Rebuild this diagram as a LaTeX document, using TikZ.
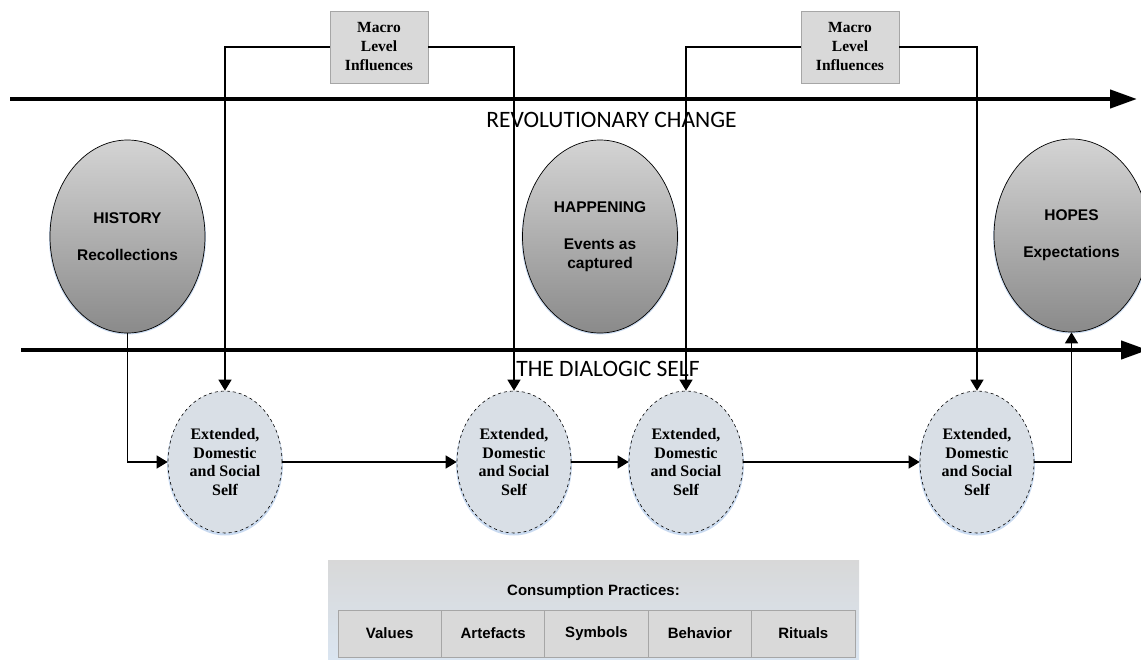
\documentclass[tikz,border=0pt]{standalone}
\usepackage{fontspec}
\setmainfont{Liberation Serif}
\newfontfamily\arialf{Liberation Sans}
\newfontfamily\calibf{Carlito}
\usetikzlibrary{shapes.geometric,arrows.meta}
\definecolor{macrofill}{HTML}{D9D9D9}
\definecolor{macroline}{HTML}{A6A6A6}
\definecolor{selffill}{HTML}{D9DFE6}
\definecolor{glow}{HTML}{C9DAF0}
\definecolor{bigtop}{HTML}{D4D4D4}
\definecolor{bigbot}{HTML}{8A8A8A}
\definecolor{cptop}{HTML}{D8D8D8}
\definecolor{cpbot}{HTML}{DAE5F1}
\tikzset{
  x=1pt,y=-1pt,
  bigarrow/.style={line width=4.3pt,-{Triangle[length=27pt,width=18pt]}},
  conn/.style={line width=1.3pt,-{Triangle[length=11pt,width=13pt]}},
  macrobox/.style={draw=macroline,fill=macrofill,line width=0.8pt,minimum width=98pt,minimum height=72pt,inner sep=0pt,align=center,font=\fontsize{15.5}{19}\selectfont\bfseries},
  bigell/.style={ellipse,draw=black,line width=0.7pt,top color=bigtop,bottom color=bigbot,minimum width=155pt,minimum height=193pt,inner sep=0pt,align=center,font=\arialf\fontsize{15.5}{19}\selectfont\bfseries},
  selfell/.style={ellipse,draw=black,dashed,line width=0.6pt,fill=selffill,minimum width=114pt,minimum height=142pt,inner sep=0pt,align=center,font=\fontsize{16}{18.5}\selectfont\bfseries},
  glowell/.style={ellipse,fill=glow,inner sep=0pt},
  axislabel/.style={font=\calibf\fontsize{23.5}{26}\selectfont,inner sep=0pt},
  cpbox/.style={top color=cptop,bottom color=cpbot,draw=none,minimum width=531pt,minimum height=99pt,inner sep=0pt},
  cell/.style={draw=macroline,fill=macrofill,line width=0.8pt,minimum width=103.4pt,minimum height=47pt,inner sep=0pt,font=\arialf\fontsize{15}{18}\selectfont\bfseries},
  cptitle/.style={font=\arialf\fontsize{15}{18}\selectfont\bfseries,inner sep=0pt}
}
\begin{document}
\begin{tikzpicture}
\useasboundingbox (0,0) rectangle (1141,659);
% thick arrows
\coordinate (t0) at (10,99);
\coordinate (t1) at (1137,99);
\coordinate (b0) at (21,350);
\coordinate (b1) at (1148,350);
\draw[bigarrow] (t0) -- (t1);
\draw[bigarrow] (b0) -- (b1);
\node[axislabel] (rev) at (611.5,120) {REVOLUTIONARY CHANGE};
\node[axislabel] (dial) at (608,369) {THE DIALOGIC SELF};
% macro boxes
\node[macrobox] (m1) at (379,47) {Macro\\Level\\Influences};
\node[macrobox] (m2) at (850,47) {Macro\\Level\\Influences};
% big ellipses with glow
\node[glowell,minimum width=157pt,minimum height=193pt] (g1) at (127.5,238) {};
\node[glowell,minimum width=157pt,minimum height=193pt] (g2) at (600,238) {};
\node[glowell,minimum width=157pt,minimum height=193pt] (g3) at (1071.5,237) {};
\node[bigell] (h1) at (127.5,236.5) {HISTORY\\[18pt]Recollections};
\node[bigell] (h2) at (600,236.5) {HAPPENING\\[18pt]Events as\\captured};
\node[bigell] (h3) at (1071.5,235.5) {HOPES\\[18pt]Expectations};
% self ellipses with glow
\node[glowell,minimum width=116pt,minimum height=143pt] (sg1) at (225,464) {};
\node[glowell,minimum width=116pt,minimum height=143pt] (sg2) at (514,464) {};
\node[glowell,minimum width=116pt,minimum height=143pt] (sg3) at (686,464) {};
\node[glowell,minimum width=116pt,minimum height=143pt] (sg4) at (977,464) {};
\node[selfell] (s1) at (225,462) {Extended,\\Domestic\\and Social\\Self};
\node[selfell] (s2) at (514,462) {Extended,\\Domestic\\and Social\\Self};
\node[selfell] (s3) at (686,462) {Extended,\\Domestic\\and Social\\Self};
\node[selfell] (s4) at (977,462) {Extended,\\Domestic\\and Social\\Self};
% connectors
\draw[conn] (m1.west) -| (s1.north);
\draw[conn] (m1.east) -| (s2.north);
\draw[conn] (m2.west) -| (s3.north);
\draw[conn] (m2.east) -| (s4.north);
\draw[conn] (h1.south) |- (s1.west);
\draw[conn] (s1.east) -- (s2.west);
\draw[conn] (s2.east) -- (s3.west);
\draw[conn] (s3.east) -- (s4.west);
\draw[conn] (s4.east) -| (h3.south);
% consumption practices
\node[cpbox] (cp) at (593.5,609.5) {};
\node[cptitle] (cpt) at (593.5,592) {Consumption Practices:};
\node[cell] (c1) at (389.7,633.5) {Values};
\node[cell] (c2) at (493.1,633.5) {Artefacts};
\node[cell] (c3) at (596.5,633.5) {Symbols};
\node[cell] (c4) at (699.9,633.5) {Behavior};
\node[cell] (c5) at (803.3,633.5) {Rituals};
\end{tikzpicture}
\end{document}
